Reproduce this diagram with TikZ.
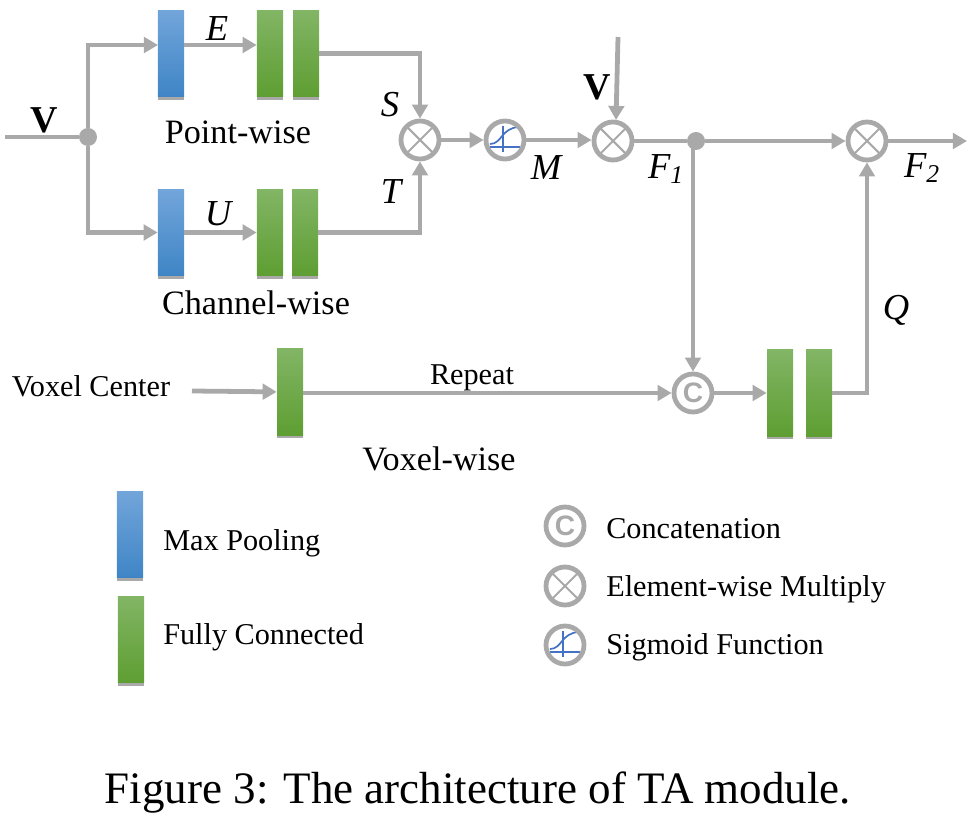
\documentclass[tikz,border=0pt]{standalone}
\usepackage{fontspec}
\setmainfont{Liberation Serif}
\newfontfamily\opfont{Liberation Sans}
\usetikzlibrary{arrows.meta,shadows}
\definecolor{opgray}{HTML}{A9A9A9}
\definecolor{sigblue}{HTML}{4472C4}
\definecolor{pooltop}{HTML}{72A5DA}
\definecolor{poolbot}{HTML}{3F85C6}
\definecolor{fctop}{HTML}{82B565}
\definecolor{fcbot}{HTML}{5E9E32}
\tikzset{
	conn/.style={draw=opgray,line width=3.4pt,-{Triangle[length=10pt,width=11pt]}},
	plain/.style={draw=opgray,line width=3.4pt},
	block/.style={minimum width=0.65cm,minimum height=2.16cm,inner sep=0,drop shadow={shadow xshift=0pt,shadow yshift=-1.2pt,shadow scale=1.03,fill=black!75,opacity=0.45}},
	pool/.style={block,top color=pooltop,bottom color=poolbot},
	fc/.style={block,top color=fctop,bottom color=fcbot},
	op/.style={circle,draw=opgray,line width=3.4pt,minimum size=0.95cm,inner sep=0},
	mult/.style={op,path picture={
		\draw[opgray,line width=1.5pt] ([shift={(-14,-14)}]path picture bounding box.center) -- ([shift={(14,14)}]path picture bounding box.center);
		\draw[opgray,line width=1.5pt] ([shift={(-14,14)}]path picture bounding box.center) -- ([shift={(14,-14)}]path picture bounding box.center);}},
	sigm/.style={op,path picture={
		\draw[sigblue,line width=1.2pt] ([shift={(-15,7)}]path picture bounding box.center) -- ([shift={(15,7)}]path picture bounding box.center);
		\draw[sigblue,line width=1.2pt] ([shift={(-2,-14)}]path picture bounding box.center) -- ([shift={(-2,12)}]path picture bounding box.center);
		\draw[sigblue,line width=1.2pt] ([shift={(-15,4)}]path picture bounding box.center) .. controls ([shift={(-3,4)}]path picture bounding box.center) and ([shift={(-4,-12)}]path picture bounding box.center) .. ([shift={(14,-13)}]path picture bounding box.center);}},
	conc/.style={op,text=opgray,font=\opfont\bfseries\fontsize{20}{20}\selectfont},
	dot/.style={circle,fill=opgray,minimum size=0.45cm,inner sep=0},
	lab/.style={font=\fontsize{24.3}{24.3}\selectfont,inner sep=0},
	small/.style={font=\fontsize{21.5}{21.5}\selectfont,inner sep=0},
	sym/.style={font=\fontsize{26}{26}\selectfont\itshape,inner sep=0},
	bold/.style={font=\fontsize{27}{27}\selectfont\bfseries,inner sep=0},
}
\begin{document}
\begin{tikzpicture}[x=0.025cm,y=-0.025cm]
		\useasboundingbox (0,0) rectangle (967,826);
		% point-wise and channel-wise branches
		\node[pool] (poolE) at (171,53.5) {};
		\node[fc] (fcEa) at (270,53.5) {};
		\node[fc] (fcEb) at (306,53.5) {};
		\node[pool] (poolU) at (171,232.5) {};
		\node[fc] (fcUa) at (270,232.5) {};
		\node[fc] (fcUb) at (305,232.5) {};
		\node[dot] (split) at (88,137) {};
		\coordinate (vin) at (5,137);
		\coordinate (rowE) at (158,45);
		% operators
		\node[mult] (mulST) at (420,140) {};
		\node[sigm] (sig) at (505,140) {};
		\node[mult] (mulV) at (613,141) {};
		\node[dot] (branch) at (696,141) {};
		\node[mult] (mulQ) at (867,141) {};
		\node[conc] (concat) at (693,393) {C};
		\node[fc] (fcVox) at (290,392) {};
		\node[fc] (fcQa) at (780,393) {};
		\node[fc] (fcQb) at (819,393) {};
		\coordinate (vtop) at (618,37);
		\coordinate (vtip) at (616,120);
		\coordinate (fout) at (967,141);
		\coordinate (voxin) at (192,391);
		% connectors
		\draw[plain] (vin) -- (split);
		\draw[conn] (split) |- (rowE);
		\draw[conn] (poolE.east |- rowE) -- (fcEa.west |- rowE);
		\draw[conn] (fcEb.east) -| (mulST);
		\draw[conn] (split) |- (poolU);
		\draw[conn] (poolU) -- (fcUa);
		\draw[conn] (fcUb.east) -| (mulST);
		\draw[conn] (mulST) -- (sig);
		\draw[conn] (sig) -- (mulV.west |- sig);
		\draw[conn] (vtop) -- (vtip);
		\draw[plain] (mulV) -- (branch);
		\draw[conn] (branch) -- (mulQ);
		\draw[conn] (mulQ) -- (fout);
		\draw[conn] (concat |- branch) -- (concat);
		\draw[conn] (voxin) -- (fcVox);
		\draw[conn] (fcVox.east |- concat) -- (concat);
		\draw[conn] (concat) -- (fcQa);
		\draw[conn] (fcQb.east) -| (mulQ);
		% labels
		\node[bold] at (44,120) {V};
		\node[bold] at (597,87) {V};
		\node[sym] at (217,29) {E};
		\node[sym] at (218,214) {U};
		\node[sym] at (390,105) {S};
		\node[sym] at (391,192) {T};
		\node[sym] at (546,168) {M};
		\node[sym] at (666,169) {F\textsubscript{1}};
		\node[sym] at (922,168) {F\textsubscript{2}};
		\node[sym] at (896,310) {Q};
		\node[lab] at (238,132) {Point-wise};
		\node[lab] at (256,303) {Channel-wise};
		\node[lab] at (439,459) {Voxel-wise};
		\node[small] at (91,386) {Voxel Center};
		\node[small] at (472,378) {Repeat};
		% legend
		\node[pool] (legPool) at (130,534.5) {};
		\node[fc] (legFc) at (131,639.5) {};
		\node[conc] (legConc) at (565,526) {C};
		\node[mult] (legMult) at (565,586) {};
		\node[sigm] (legSig) at (565,645) {};
		\node[small,anchor=west] at (163,543) {Max Pooling};
		\node[small,anchor=west] at (163,637) {Fully Connected};
		\node[small,anchor=west] at (606,529) {Concatenation};
		\node[small,anchor=west] at (606,589) {Element-wise Multiply};
		\node[small,anchor=west] at (606,647) {Sigmoid Function};
		\node[font=\fontsize{32}{32}\selectfont,inner sep=0] at (478,793) {Figure 3: The architecture of TA module.};
		\end{tikzpicture}
\end{document}
